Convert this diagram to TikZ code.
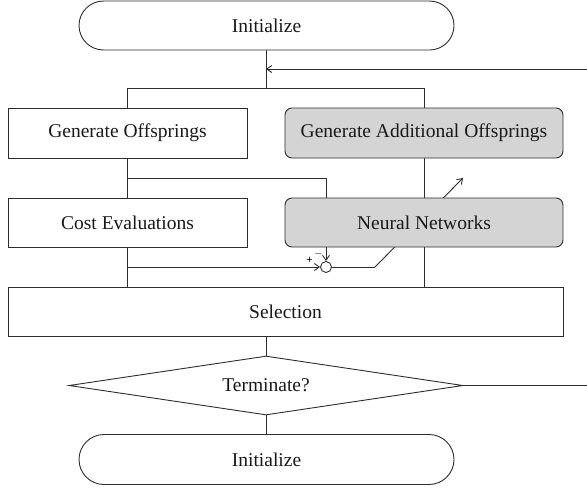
\documentclass[tikz,border=0pt]{standalone}
\usepackage{fontspec}
\setmainfont{Liberation Serif}
\usetikzlibrary{shapes.geometric,shapes.misc,arrows.meta,backgrounds}
\definecolor{boxgray}{RGB}{212,212,212}
\definecolor{linec}{RGB}{45,45,45}
\tikzset{
  base/.style={draw=linec, line width=0.9pt, inner sep=0pt, font=\fontsize{19.5}{22}\selectfont, text=black!90},
  plainbox/.style={base, rectangle, fill=white},
  graybox/.style={base, rectangle, rounded corners=7pt, fill=boxgray},
  termbox/.style={base, rounded rectangle, fill=white},
  decbox/.style={base, diamond, fill=white, aspect=6.68},
  conn/.style={draw=linec, line width=0.9pt},
  arr/.style={conn, -{Straight Barb[length=5pt,width=7pt,line width=0.9pt]}},
  sumnode/.style={draw=linec, line width=0.9pt, circle, fill=white, minimum size=11pt, inner sep=0pt},
  sign/.style={font=\fontsize{11}{12}\selectfont\bfseries, inner sep=0pt}
}
\begin{document}
\begin{tikzpicture}[x=1pt,y=-1pt]
\useasboundingbox (0,0) rectangle (587,491);
% nodes
\node[termbox, minimum width=375pt, minimum height=49pt] (init1) at (266.5,25.5) {Initialize};
\node[plainbox, minimum width=239pt, minimum height=50pt] (genoff) at (127.5,133) {Generate Offsprings};
\node[graybox, minimum width=278pt, minimum height=50pt] (genadd) at (424,133) {Generate Additional Offsprings};
\node[plainbox, minimum width=239pt, minimum height=49pt] (cost) at (127.5,222.5) {Cost Evaluations};
\node[graybox, minimum width=278pt, minimum height=49pt] (nn) at (424,222.5) {Neural Networks};
\node[plainbox, minimum width=555pt, minimum height=49pt] (sel) at (285.5,311.5) {Selection};
\node[decbox, minimum width=394pt, minimum height=59pt] (term) at (266,385.5) {Terminate?};
\node[termbox, minimum width=375pt, minimum height=50pt] (init2) at (266.5,459.5) {Initialize};
\node[sumnode] (sum) at (326,267) {};
\node[sign] (plus) at (309.5,260.5) {+};
\node[sign] (minus) at (318.5,253.5) {$-$};
% coordinates
\coordinate (br) at (266,88);
\coordinate (brl) at (127,88);
\coordinate (brr) at (424,88);
\coordinate (fbR) at (587,69);
\coordinate (dR) at (587,385.5);
\coordinate (j1) at (127,178);
\coordinate (j1r) at (326,178);
\coordinate (j2) at (127,267);
\coordinate (kink) at (375,267);
\coordinate (tip) at (463,178);
\begin{pgfonlayer}{background}
\draw[conn] (init1.south -| br) -- (br);
\draw[conn] (brl) -- (brr);
\draw[conn] (brl) -- (sel.north -| brl);
\draw[conn] (brr) -- (sel.north -| brr);
\draw[arr] (fbR) -- (fbR -| br);
\draw[conn] (j1) -- (j1r) -- (nn.north -| j1r);
\draw[arr] (nn.south -| j1r) -- (sum.north);
\draw[arr] (j2) -- (sum.west);
\draw[conn] (sum.east) -- (kink);
\draw[arr] (kink) -- (tip);
\draw[conn] (sel.south -| term.north) -- (term.north);
\draw[conn] (term.east) -- (dR);
\draw[conn] (term.south) -- (init2.north -| term.south);
\end{pgfonlayer}
\end{tikzpicture}
\end{document}
